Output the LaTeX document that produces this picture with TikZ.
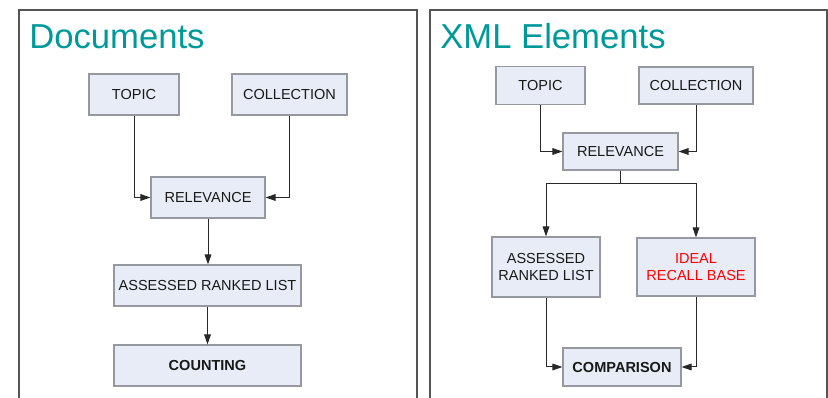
\documentclass[tikz,border=0pt]{standalone}
\usepackage{fontspec}
\setmainfont{Liberation Sans}
\usetikzlibrary{arrows.meta}

\definecolor{titleteal}{RGB}{0,153,153}
\definecolor{boxfill}{RGB}{231,236,246}
\definecolor{boxline}{RGB}{150,152,160}
\definecolor{panelline}{RGB}{85,85,85}
\definecolor{wire}{RGB}{40,40,40}

% one drawing unit is 0.75pt; box sizes below are given in the same unit
\tikzset{
  x=0.75pt, y=-0.75pt,
  panel/.style={draw=panelline, line width=1pt},
  heading/.style={anchor=base west, inner sep=0pt, text=titleteal,
    font=\fontsize{26}{30}\selectfont},
  stepbox/.style={draw=boxline, fill=boxfill, line width=0.8pt,
    inner sep=0pt, align=center, text=black!90,
    font=\fontsize{10.9}{12.75}\selectfont},
  size/.style 2 args={minimum width=0.75*#1 pt, minimum height=0.75*#2 pt},
  arr/.style={draw=wire, line width=0.75pt,
    -{Triangle[length=7.5pt, width=5pt]}},
  wireline/.style={draw=wire, line width=0.75pt},
}

\begin{document}
\begin{tikzpicture}
\useasboundingbox (0,0) rectangle (828,398);

% two framing panels, open at the bottom
\draw[panel] (19,420) -- (19,10) -- (417,10) -- (417,420);
\draw[panel] (430,420) -- (430,10) -- (827,10) -- (827,420);

% left panel: documents
\node[heading] (tdoc) at (29,49) {Documents};
\node[stepbox, size={90}{41}] (ltopic) at (134,94.5) {TOPIC};
\node[stepbox, size={115}{41}] (lcoll) at (289.5,94.5) {COLLECTION};
\node[stepbox, size={114}{41}] (lrel) at (208,197.5) {RELEVANCE};
\node[stepbox, size={187}{41}] (lars) at (207.5,285.5) {ASSESSED RANKED LIST};
\node[stepbox, size={187}{41}] (lcnt) at (207.5,365.5) {\bfseries COUNTING};

\draw[arr] (ltopic.south) |- (lrel.west);
\draw[arr] (lcoll.south) |- (lrel.east);
\draw[arr] (lrel.south) -- (lrel.south |- lars.north);
\draw[arr] (lars.south) -- (lars.south |- lcnt.north);

% right panel: XML elements
\node[heading] (txml) at (440,49) {XML Elements};
\node[stepbox, size={89}{38}] (rtopic) at (540.5,85.5) {TOPIC};
\node[stepbox, size={114}{37}] (rcoll) at (696,85.5) {COLLECTION};
\node[stepbox, size={115}{37}] (rrel) at (620.5,151.5) {RELEVANCE};
\node[stepbox, size={108}{60}] (rars) at (546,267) {ASSESSED\\RANKED LIST};
\node[stepbox, size={118}{58}, text=red] (rirb) at (696,267) {IDEAL\\RECALL BASE};
\node[stepbox, size={118}{38}] (rcmp) at (622,367) {\bfseries COMPARISON};

\draw[arr] (rtopic.south) |- (rrel.west);
\draw[arr] (rcoll.south) |- (rrel.east);
\coordinate (split) at (620.5,184);
\draw[wireline] (rrel.south) -- (split);
\draw[arr] (split) -| (rars.north);
\draw[arr] (split) -| (rirb.north);
\draw[arr] (rars.south) |- (rcmp.west);
\draw[arr] (rirb.south) |- (rcmp.east);
\end{tikzpicture}
\end{document}
